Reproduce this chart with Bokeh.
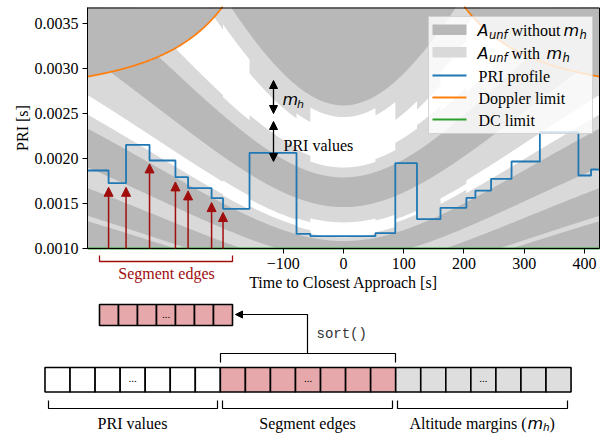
import numpy as np
from bokeh.plotting import figure
from bokeh.models import (Range1d, FixedTicker, Arrow, NormalHead, ColumnDataSource,
                          NumeralTickFormatter, CustomJSTickFormatter)
from bokeh.core.properties import value
from bokeh.embed import file_html
from bokeh.resources import INLINE

# ------------------------------------------------------------------ data
# PRI profile: segment edges [s] and PRI of each segment [s]
seg_edges = [-425, -390, -361, -322, -279, -258, -219, -200, -156, -78, -55, 53, 86,
             122, 161, 204, 219, 245, 279, 326, 390, 411, 425]
pri_values = [0.001867, 0.001726, 0.002152, 0.001978, 0.001793, 0.001670, 0.001559,
              0.001441, 0.002063, 0.001163, 0.001137, 0.001170, 0.001948, 0.001326,
              0.001452, 0.001563, 0.001644, 0.001774, 0.001967, 0.002293, 0.001811,
              0.001878]
# altitude-margin widening of the upper band per segment (light lower edge / dark lower edge)
alt_margin_ratio = [0.90, 0.90, 0.90, 0.90, 0.90, 0.90, 0.90, 0.915, 0.87, 0.89, 0.95,
                    0.92, 0.85, 0.82, 0.86, 0.90, 0.90, 0.90, 0.90, 0.90, 0.90, 0.90]
# highlighted segment edges (red arrows) and arrow tip PRI
arrow_times = [-390, -361, -322, -279, -258, -219, -200]
arrow_tips = [0.00168, 0.00168, 0.00194, 0.00174, 0.00164, 0.00151, 0.00140]

# unfeasible bands, PRI bounds at closest approach [s]
top_dark_lo = 0.00259         # upper (first) band
top_time_scale = 185.0        # [s]
band_dark_lo = [0.001460, 0.000883, 0.000633, 0.000493, 0.000404]
band_dark_hi = [0.001790, 0.001083, 0.000776, 0.000605, 0.000495]
band_light_lo = [0.001290, 0.000750, 0.000537, 0.000419, 0.000343]
band_light_hi = [0.001900, 0.001125, 0.000824, 0.000642, 0.000526]
range_growth = 4.3            # slant-range growth factor of the pass geometry
pass_time_scale = 300.0       # [s]
doppler_time_scale = 195.0    # [s]
doppler_edge_pri = 0.00291    # Doppler limit PRI at |t| = 425 s
dc_limit = 0.0010             # duty-cycle minimum PRI

x_ticks = [-100, 0, 100, 200, 300, 400]
y_ticks = [0.0010, 0.0015, 0.0020, 0.0025, 0.0030, 0.0035]

legend_labels = ["without", "with", "PRI profile", "Doppler limit", "DC limit"]
array_labels = ["PRI values", "Segment edges", "Altitude margins ("]
cells_per_group = 7

# ------------------------------------------------------------------ style / layout
DARK = "#b8b8b8"
LIGHT = "#d9d9d9"
BLUE = "#1f77b4"
ORANGE = "#ff7f0e"
GREEN = "#2ca02c"
RED = "#a00d0d"
PINK = "#e6a8aa"
CELLGRAY = "#dedede"
SERIF = value("Liberation Serif")
SANS = value("DejaVu Sans")
MONO = value("Liberation Mono")

X0, X1 = -425.0, 425.0          # plotted time range
Y0, Y1 = 0.0010, 0.003678       # plotted PRI range
FX0, FX1, FY0, FY1 = 87, 599, 7, 248   # axes box in page pixels
W, H = 600, 433


def tx(px):
    return X0 + (px - FX0) / (FX1 - FX0) * (X1 - X0)


def py(pyx):
    return Y0 + (FY1 - pyx) / (FY1 - FY0) * (Y1 - Y0)


p = figure(width=W, height=H, x_range=Range1d(tx(0), tx(W)), y_range=Range1d(py(H), py(0)),
           toolbar_location=None, output_backend="svg", min_border=0,
           min_border_left=0, min_border_right=0, min_border_top=0, min_border_bottom=0)
p.grid.visible = False
p.outline_line_color = None
p.background_fill_color = "white"
p.border_fill_color = "white"

for ax in (p.xaxis[0], p.yaxis[0]):
    ax.major_tick_out = 5
    ax.major_tick_in = 0
    ax.minor_tick_line_color = None
    ax.major_label_text_font = "Liberation Serif"
    ax.major_label_text_font_size = "16px"
    ax.major_label_text_color = "black"
    ax.axis_line_color = "black"
    ax.major_tick_line_color = "black"

p.xaxis.fixed_location = Y0
p.xaxis.bounds = (X0, X1)
p.xaxis.ticker = FixedTicker(ticks=x_ticks)
p.xaxis.formatter = CustomJSTickFormatter(code="return tick < 0 ? '\u2212' + (-tick) : '' + tick;")
p.xaxis.major_label_standoff = 4
p.yaxis.fixed_location = X0
p.yaxis.bounds = (Y0, Y1)
p.yaxis.ticker = FixedTicker(ticks=y_ticks)
p.yaxis.formatter = NumeralTickFormatter(format="0.0000")
p.yaxis.major_label_standoff = 4

# ---- unfeasible areas (time grid split at every segment edge so margins can jump)
t_parts, r_parts = [], []
for a, b, r in zip(seg_edges[:-1], seg_edges[1:], alt_margin_ratio):
    n = max(int(b - a), 2) + 1
    t_parts.append(np.linspace(a, b, n))
    r_parts.append(np.full(n, r))
t = np.concatenate(t_parts)
ratio = np.concatenate(r_parts)
jag = 1.0 - 0.5 * (1.0 - ratio / alt_margin_ratio[10])

g_pass = np.sqrt(1.0 + range_growth * (1.0 - np.cos(t / pass_time_scale)))
g_top = np.sqrt(1.0 + (t / top_time_scale) ** 2)
p.varea(x=t, y1=np.clip(top_dark_lo * ratio * g_top, Y0, Y1), y2=Y1, fill_color=LIGHT)
for lo, hi in zip(band_light_lo, band_light_hi):
    p.varea(x=t, y1=np.clip(lo * g_pass * jag, Y0, Y1), y2=np.clip(hi * g_pass / jag, Y0, Y1),
            fill_color=LIGHT)
p.varea(x=t, y1=np.clip(top_dark_lo * g_top, Y0, Y1), y2=Y1, fill_color=DARK)
for lo, hi in zip(band_dark_lo, band_dark_hi):
    p.varea(x=t, y1=np.clip(lo * g_pass, Y0, Y1), y2=np.clip(hi * g_pass, Y0, Y1), fill_color=DARK)

# Doppler limit
td_all = np.linspace(X0, X1, 851)
k_dop = doppler_edge_pri * X1 / np.sqrt(doppler_time_scale ** 2 + X1 ** 2)
for side in (-1, 1):
    td = td_all[(side * td_all) >= 150]
    pd_ = k_dop * np.sqrt(doppler_time_scale ** 2 + td ** 2) / np.abs(td)
    p.varea(x=td, y1=np.clip(pd_, Y0, Y1), y2=Y1, fill_color=DARK)
    m = pd_ <= Y1 + 0.00002
    p.line(td[m], np.minimum(pd_[m], Y1), line_color=ORANGE, line_width=1.8)

# DC limit
p.line([X0, X1], [dc_limit, dc_limit], line_color=GREEN, line_width=2)

# PRI profile
p.step(x=seg_edges, y=pri_values + [pri_values[-1]], mode="after", line_color=BLUE, line_width=1.8)

# axes box (top / right spines)
p.line([X0, X1, X1], [py(7.5), py(7.5), Y0], line_color="black", line_width=1)

# red segment-edge arrows
src = ColumnDataSource(dict(x=arrow_times, y0=[dc_limit] * len(arrow_times), y1=arrow_tips))
p.add_layout(Arrow(end=NormalHead(size=9, fill_color=RED, line_color=RED, line_width=1),
                   x_start="x", y_start="y0", x_end="x", y_end="y1", source=src,
                   line_color=RED, line_width=1.5))

# m_h and PRI values double arrows
tm = tx(273)
for ya, yb in ((113, 80), (161, 121)):
    p.add_layout(Arrow(start=NormalHead(size=8, fill_color="black", line_color="black"),
                       end=NormalHead(size=8, fill_color="black", line_color="black"),
                       x_start=tm, y_start=py(ya), x_end=tm, y_end=py(yb),
                       line_color="black", line_width=1.3))


def txt(xp, yp, s, font=SERIF, size=16.0, style="normal", align="left", color="black",
        baseline="alphabetic", angle=0.0):
    if baseline == "alphabetic":
        yp = yp - 0.27 * size
    p.text(x=[tx(xp)], y=[py(yp)], text=[s], text_font=font, text_font_style=style,
           text_font_size=f"{size}px", text_align=align, text_baseline=baseline,
           text_color=color, angle=angle)


txt(282, 103.5, "m", font=SANS, style="italic")
txt(296.5, 106.5, "h", font=SANS, style="italic", size=11)
txt(283, 149, "PRI values")

# axis titles
txt(343, 286, "Time to Closest Approach [s]", align="center")
txt(22, 127.5, "PRI [s]", align="center", baseline="middle", angle=np.pi / 2)

# segment-edges bracket below the axis
p.multi_line(xs=[[tx(99), tx(99), tx(232), tx(232)]], ys=[[py(255), py(261), py(261), py(255)]],
             line_color=RED, line_width=1.3)
txt(166, 277, "Segment edges", align="center", color=RED)

# ---- legend (drawn)
p.quad(left=tx(428), right=tx(592), top=py(16), bottom=py(133), fill_color="white",
       fill_alpha=0.8, line_color="#cccccc", line_alpha=0.8)
p.quad(left=tx(432), right=tx(466), top=py(24), bottom=py(34.5), fill_color=DARK, line_color=None)
p.quad(left=tx(432), right=tx(466), top=py(46.5), bottom=py(57), fill_color=LIGHT, line_color=None)
for yy, col in ((75, BLUE), (97, ORANGE), (119, GREEN)):
    p.line([tx(432), tx(466)], [py(yy), py(yy)], line_color=col, line_width=2)
rows = [(34, 511, 563), (57, 511, 546)]
for (base, xw, xm), lab in zip(rows, legend_labels[:2]):
    txt(477, base, "A", font=SANS, style="italic")
    txt(488.5, base + 3.5, "unf", font=SANS, style="italic", size=11.5)
    txt(xw, base, lab)
    txt(xm, base, "m", font=SANS, style="italic")
    txt(xm + 16, base + 3.5, "h", font=SANS, style="italic", size=11.5)
for base, lab in ((80.5, legend_labels[2]), (102, legend_labels[3]), (124, legend_labels[4])):
    txt(478, base, lab)

# ------------------------------------------------------------------ vector diagram (page pixels)
main_x0, main_w, main_top, main_bot = 44.5, 25.05, 367, 391.5
group_fills = ["white", PINK, CELLGRAY]
lefts, rights, fills = [], [], []
for g, col in enumerate(group_fills):
    for i in range(cells_per_group):
        k = g * cells_per_group + i
        lefts.append(tx(main_x0 + k * main_w))
        rights.append(tx(main_x0 + (k + 1) * main_w))
        fills.append(col)
p.quad(left=lefts, right=rights, top=py(main_top), bottom=py(main_bot), fill_color=fills,
       line_color="black", line_width=1.6)
for g in range(3):
    cx = main_x0 + (g * cells_per_group + 3.5) * main_w
    txt(cx, (main_top + main_bot) / 2 - 1, "...", size=11, align="center", baseline="middle")

sm_x0, sm_w, sm_top, sm_bot = 99, 19.0, 304, 325
p.quad(left=[tx(sm_x0 + i * sm_w) for i in range(cells_per_group)],
       right=[tx(sm_x0 + (i + 1) * sm_w) for i in range(cells_per_group)],
       top=py(sm_top), bottom=py(sm_bot), fill_color=PINK, line_color="black", line_width=1.6)
txt(sm_x0 + 3.5 * sm_w, (sm_top + sm_bot) / 2 - 1, "...", size=11, align="center", baseline="middle")

# sort() bracket and arrow
p.multi_line(xs=[[tx(220), tx(220), tx(395), tx(395)], [tx(307), tx(307), tx(240)]],
             ys=[[py(362), py(353), py(353), py(362)], [py(353), py(314), py(314)]],
             line_color="black", line_width=1.2)
p.add_layout(Arrow(end=NormalHead(size=7, fill_color="black", line_color="black"),
                   x_start=tx(245), y_start=py(314), x_end=tx(235), y_end=py(314),
                   line_color="black", line_width=1.2))
txt(316, 337, "sort()", font=MONO, size=14, color="#333333")

# lower brackets and labels
bx = [(48, 217), (222, 392), (397, 567)]
p.multi_line(xs=[[tx(a), tx(a), tx(b), tx(b)] for a, b in bx],
             ys=[[py(400), py(408), py(408), py(400)]] * 3, line_color="black", line_width=1.2)
txt(132, 427, array_labels[0], align="center")
txt(307, 427, array_labels[1], align="center")
txt(526, 427, array_labels[2], align="right")
txt(527, 427, "m", font=SANS, style="italic")
txt(542.5, 429.5, "h", font=SANS, style="italic", size=10.5)
txt(549, 427, ")")

open("out.html", "w").write(file_html(p, INLINE))
